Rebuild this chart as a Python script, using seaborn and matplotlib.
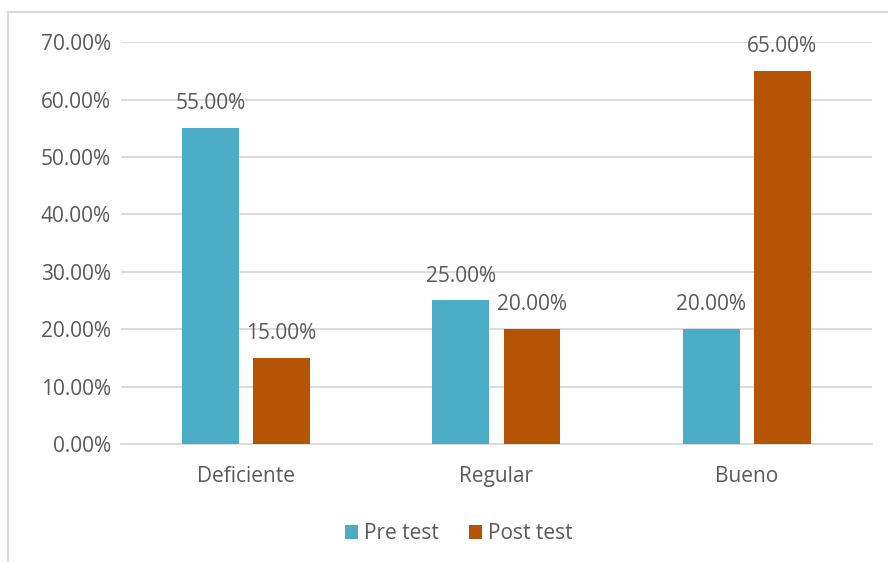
import pandas as pd
import matplotlib.pyplot as plt
import seaborn as sns
from matplotlib.patches import Rectangle
from matplotlib.ticker import PercentFormatter

# Data
categories = ['Deficiente', 'Regular', 'Bueno']
pre_test = [0.55, 0.25, 0.20]
post_test = [0.15, 0.20, 0.65]
series_names = ['Pre test', 'Post test']
colors = ['#4BACC6', '#B55405']

df = pd.DataFrame({
    'categoria': categories * 2,
    'valor': pre_test + post_test,
    'serie': [series_names[0]] * 3 + [series_names[1]] * 3,
})

sns.set_style('white')
plt.rcParams['font.family'] = ['Open Sans', 'DejaVu Sans']
text_color = '#595959'
fs = 15

fig = plt.figure(figsize=(8.88, 5.62), dpi=100)
ax = fig.add_axes([0.136, 0.21, 0.846, 0.715])

sns.barplot(data=df, x='categoria', y='valor', hue='serie', palette=colors,
            saturation=1, width=0.568, gap=0.2, linewidth=0, edgecolor='none',
            ax=ax, zorder=3)

ax.set_ylim(0, 0.70)
ax.set_xlim(-0.5, 2.5)
ax.set_yticks([i / 10 for i in range(8)])
ax.yaxis.set_major_formatter(PercentFormatter(1.0, decimals=2))
ax.grid(axis='y', color='#D9D9D9', linewidth=1.3, zorder=0)
ax.set_xlabel('')
ax.set_ylabel('')
for s in ['top', 'right', 'left']:
    ax.spines[s].set_visible(False)
ax.spines['bottom'].set_color('#D9D9D9')
ax.spines['bottom'].set_linewidth(1.3)
ax.tick_params(axis='both', length=0, labelsize=fs, colors=text_color)
ax.tick_params(axis='x', pad=16)
ax.tick_params(axis='y', pad=7)

# value labels
for cont in ax.containers:
    ax.bar_label(cont, labels=[f'{v * 100:.2f}%' for v in cont.datavalues],
                 padding=10, fontsize=fs, color=text_color)

ax.legend(loc='upper center', bbox_to_anchor=(0.45, -0.15), ncol=2, frameon=False,
          fontsize=fs, labelcolor=text_color, handlelength=0.65, handleheight=0.65,
          handletextpad=0.3, columnspacing=1.4)

# chart frame
fig.patches.append(Rectangle((0.009, -0.1), 1.2, 0.1 + 0.979, transform=fig.transFigure,
                             fill=False, edgecolor='#D9D9D9', linewidth=1.5))

fig.savefig('out.png', dpi=100)
